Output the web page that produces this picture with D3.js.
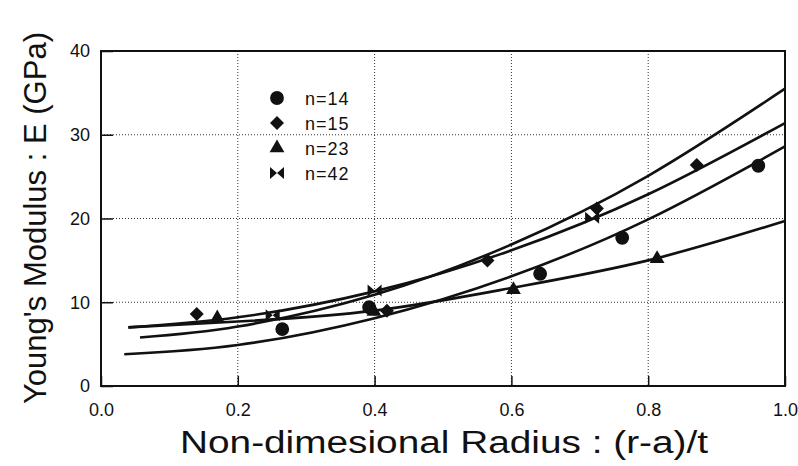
<!DOCTYPE html>
<html>
<head>
  <meta charset="utf-8">
  <title>Young's Modulus vs Radius</title>
  <style>
    body { margin: 0; background: #fff; }
    text { font-family: "Liberation Sans", Arial, sans-serif; fill: #111; }
  </style>
</head>
<body>
  <div id="graph"></div>
  <script src="https://cdn.jsdelivr.net/npm/d3@7"></script>
  <script>
    // tick values
    const xTicks = [0.0, 0.2, 0.4, 0.6, 0.8, 1.0];
    const yTicks = [0, 10, 20, 30, 40];

    // measured points, [radius, E]
    const n14 = [[0.265, 6.8], [0.392, 9.4], [0.642, 13.4], [0.762, 17.7], [0.961, 26.3]];
    const n15 = [[0.14, 8.6], [0.418, 9.0], [0.565, 15.0], [0.725, 21.2], [0.871, 26.4]];
    const n23 = [[0.17, 8.1], [0.399, 8.9], [0.603, 11.5], [0.813, 15.2]];
    const n42 = [[0.251, 8.45], [0.40, 11.4], [0.718, 20.1]];

    // fitted curves
    const fitA = [[0.057, 5.8], [0.2, 7.1], [0.4, 10.9], [0.6, 16.9], [0.8, 25.1], [1.0, 35.5]];
    const fitB = [[0.04, 7.0], [0.2, 8.2], [0.4, 11.3], [0.6, 16.2], [0.8, 22.9], [1.0, 31.4]];
    const fitC = [[0.034, 3.8], [0.2, 4.9], [0.4, 8.1], [0.6, 13.1], [0.8, 19.9], [1.0, 28.6]];
    const fitD = [[0.04, 7.0], [0.2, 7.7], [0.4, 9.0], [0.6, 11.7], [0.8, 15.0], [1.0, 19.7]];

    const legendLabels = ["n=14", "n=15", "n=23", "n=42"];

    const W = 798, H = 466;
    const margin = { top: 51, right: 13, bottom: 80, left: 101 },
      width = W - margin.left - margin.right,
      height = H - margin.top - margin.bottom;

    const svg = d3.select("#graph")
      .append("svg")
      .attr("width", W)
      .attr("height", H);

    const g = svg.append("g")
      .attr("transform", `translate(${margin.left},${margin.top})`);

    const x = d3.scaleLinear().domain([0, 1]).range([0, width]);
    const y = d3.scaleLinear().domain([0, 40]).range([height, 0]);

    // dotted grid
    g.selectAll(".vgrid")
      .data(xTicks.slice(1, -1))
      .enter().append("line")
      .attr("x1", d => x(d)).attr("x2", d => x(d))
      .attr("y1", 0).attr("y2", height)
      .attr("stroke", "#333").attr("stroke-width", 1)
      .attr("stroke-dasharray", "1,2");
    g.selectAll(".hgrid")
      .data(yTicks.slice(1, -1))
      .enter().append("line")
      .attr("x1", 0).attr("x2", width)
      .attr("y1", d => y(d)).attr("y2", d => y(d))
      .attr("stroke", "#333").attr("stroke-width", 1)
      .attr("stroke-dasharray", "1,2");

    // axes with inner ticks
    const xAxis = g.append("g")
      .attr("transform", `translate(0,${height})`)
      .call(d3.axisBottom(x).tickValues(xTicks).tickFormat(d3.format(".1f"))
        .tickSizeInner(-10).tickSizeOuter(0).tickPadding(17));
    const yAxis = g.append("g")
      .call(d3.axisLeft(y).tickValues(yTicks)
        .tickSizeInner(-12).tickSizeOuter(0).tickPadding(11));
    [xAxis, yAxis].forEach(a => {
      a.select(".domain").remove();
      a.selectAll("line").attr("stroke", "#111").attr("stroke-width", 1.5);
      a.selectAll("text")
        .style("font-family", "'Liberation Sans', Arial, sans-serif")
        .style("font-size", "18px")
        .attr("fill", "#111");
    });

    // frame
    g.append("rect")
      .attr("width", width).attr("height", height)
      .attr("fill", "none").attr("stroke", "#111").attr("stroke-width", 2);

    // curves
    const line = d3.line()
      .x(d => x(d[0])).y(d => y(d[1]))
      .curve(d3.curveNatural);
    g.selectAll(".fit")
      .data([fitA, fitB, fitC, fitD])
      .enter().append("path")
      .attr("d", line)
      .attr("fill", "none")
      .attr("stroke", "#111")
      .attr("stroke-width", 2.6);

    // markers
    const shapes = [
      d3.symbol().type(d3.symbolCircle).size(150)(),
      "M0,-7L7,0L0,7L-7,0Z",
      d3.symbol().type(d3.symbolTriangle).size(95)(),
      "M-7,-6L0,0L-7,6ZM7,-6L0,0L7,6Z"
    ];
    const series = [n14, n15, n23, n42];
    series.forEach((pts, i) => {
      g.selectAll(".m" + i)
        .data(pts)
        .enter().append("path")
        .attr("d", shapes[i])
        .attr("transform", d => `translate(${x(d[0])},${y(d[1])})`)
        .attr("fill", "#111");
    });

    // legend
    const legend = svg.append("g").attr("transform", "translate(277,98)");
    legendLabels.forEach((lab, i) => {
      const row = legend.append("g").attr("transform", `translate(0,${i * 25})`);
      row.append("path").attr("d", shapes[i]).attr("fill", "#111");
      row.append("text")
        .attr("x", 28).attr("y", 7)
        .style("font-size", "18px")
        .style("letter-spacing", "1px")
        .text(lab);
    });

    // axis titles
    svg.append("text")
      .attr("x", 180).attr("y", 453)
      .attr("textLength", 528).attr("lengthAdjust", "spacingAndGlyphs")
      .style("font-size", "31px")
      .text("Non-dimesional Radius : (r-a)/t");
    svg.append("text")
      .attr("transform", "translate(46,404) rotate(-90)")
      .attr("textLength", 372).attr("lengthAdjust", "spacingAndGlyphs")
      .style("font-size", "31px")
      .text("Young's Modulus : E (GPa)");
  </script>
</body>
</html>
